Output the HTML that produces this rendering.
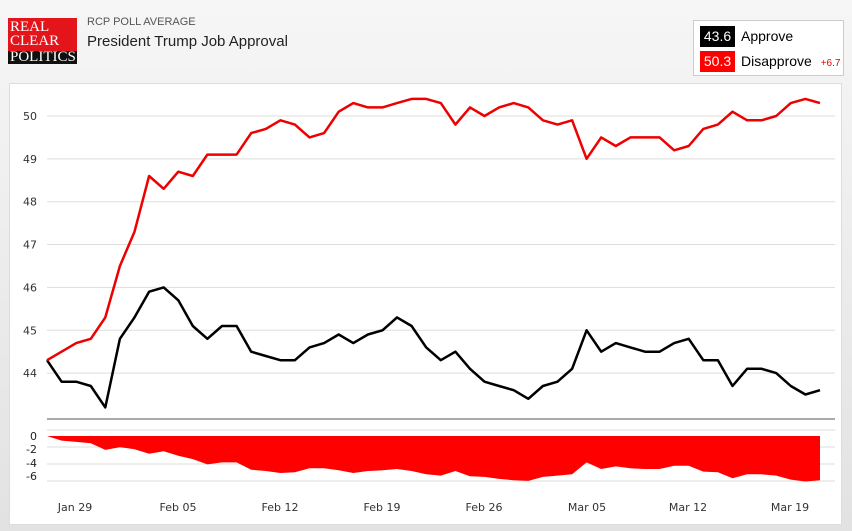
<!DOCTYPE html>
<html><head><meta charset="utf-8"><style>
body{margin:0;width:852px;height:531px;overflow:hidden;background:linear-gradient(#f6f6f6,#e2e2e2);font-family:"Liberation Sans",sans-serif;position:relative}
.logo{position:absolute;left:8px;top:18px;width:69px;height:46px;font-family:"Liberation Serif",serif;font-size:15px;line-height:14px;color:#fff}
.logo .r{background:#e4141b;height:33px;padding:2px 0 0 2px;box-sizing:border-box}
.logo .b{background:#111;height:13px;padding-left:2px;font-size:15px;line-height:13px}
.sub{position:absolute;left:87px;top:16px;font-size:11px;color:#555}
.ttl{position:absolute;left:87px;top:33px;font-size:15px;color:#222}
.leg{position:absolute;left:693px;top:20px;width:151px;height:56px;background:#fff;border:1px solid #ccc;box-sizing:border-box;font-size:14px}
.leg .row{position:absolute;left:6px;height:21px;line-height:21px}
.leg .n{display:inline-block;width:35px;text-align:center;color:#fff;font-size:14px;margin-right:6px}
.panel{position:absolute;left:9px;top:83px;width:833px;height:442px;background:#fff;border:1px solid #ddd;box-sizing:border-box}
</style></head><body>
<div class="logo"><div class="r">REAL<br>CLEAR</div><div class="b">POLITICS</div></div>
<div class="sub">RCP POLL AVERAGE</div>
<div class="ttl">President Trump Job Approval</div>
<div class="leg">
<div class="row" style="top:5px"><span class="n" style="background:#000">43.6</span>Approve</div>
<div class="row" style="top:30px"><span class="n" style="background:#f00">50.3</span>Disapprove <span style="color:#e00;font-size:10px;margin-left:5px">+6.7</span></div>
</div>
<div class="panel"></div>
<svg id="s" width="852" height="531" style="position:absolute;left:0;top:0" font-family="DejaVu Sans, sans-serif"></svg>
<script>
var R=[44.3,44.5,44.7,44.8,45.3,46.5,47.3,48.6,48.3,48.7,48.6,49.1,49.1,49.1,49.6,49.7,49.9,49.8,49.5,49.6,50.1,50.3,50.2,50.2,50.3,50.4,50.4,50.3,49.8,50.2,50.0,50.2,50.3,50.2,49.9,49.8,49.9,49.0,49.5,49.3,49.5,49.5,49.5,49.2,49.3,49.7,49.8,50.1,49.9,49.9,50.0,50.3,50.4,50.3];
var B=[44.3,43.8,43.8,43.7,43.2,44.8,45.3,45.9,46.0,45.7,45.1,44.8,45.1,45.1,44.5,44.4,44.3,44.3,44.6,44.7,44.9,44.7,44.9,45.0,45.3,45.1,44.6,44.3,44.5,44.1,43.8,43.7,43.6,43.4,43.7,43.8,44.1,45.0,44.5,44.7,44.6,44.5,44.5,44.7,44.8,44.3,44.3,43.7,44.1,44.1,44.0,43.7,43.5,43.6];
var n=R.length,x0=47,x1=820,dx=(x1-x0)/(n-1);
function X(i){return x0+i*dx}function Y(v){return 116+(50-v)*42.85}
var h='';
for(var v=44;v<=50;v++){h+='<line x1="47" x2="835" y1="'+Y(v)+'" y2="'+Y(v)+'" stroke="#ddd"/><text x="37" y="'+(Y(v)+4)+'" font-size="11" fill="#333" text-anchor="end">'+v+'</text>';}
h+='<line x1="47" x2="835" y1="419" y2="419" stroke="#aaa" stroke-width="2"/>';
[430,447,464,481].forEach(function(y){h+='<line x1="47" x2="835" y1="'+y+'" y2="'+y+'" stroke="#ddd"/>'});
[['0',440],['-2',453],['-4',467],['-6',480]].forEach(function(t){h+='<text x="37" y="'+t[1]+'" font-size="11" fill="#222" text-anchor="end">'+t[0]+'</text>'});
var p='M'+x0+' 436';for(var i=0;i<n;i++)p+=' L'+X(i).toFixed(1)+' '+(436+(R[i]-B[i])*6.6).toFixed(1);p+=' L'+x1+' 436Z';
h+='<path d="'+p+'" fill="#f00"/>';
function pl(a,c){var s='';for(var i=0;i<n;i++)s+=X(i).toFixed(1)+','+Y(a[i]).toFixed(1)+' ';return '<polyline points="'+s+'" fill="none" stroke="'+c+'" stroke-width="2.5" stroke-linejoin="round"/>'}
h+=pl(B,'#000')+pl(R,'#e00');
[['Jan 29',75],['Feb 05',178],['Feb 12',280],['Feb 19',382],['Feb 26',484],['Mar 05',587],['Mar 12',688],['Mar 19',790]].forEach(function(t){h+='<text x="'+t[1]+'" y="511" font-size="11" fill="#333" text-anchor="middle">'+t[0]+'</text>'});
document.getElementById('s').innerHTML=h;
</script>
</body></html>
